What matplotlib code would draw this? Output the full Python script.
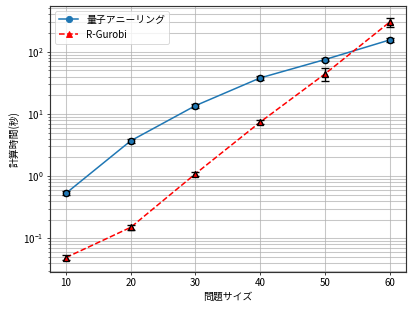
import numpy as np
import matplotlib
matplotlib.use('Agg')
import matplotlib.pyplot as plt

plt.rcParams['font.family'] = ['Noto Sans CJK JP', 'DejaVu Sans']
plt.rcParams['axes.unicode_minus'] = False
plt.rcParams['font.size'] = 11

sizes = [10, 20, 30, 40, 50, 60]
qa_time = [0.53, 3.7, 13.6, 38, 75, 155]
qa_err = [0.04, 0.3, 1.0, 2.5, 5, 9]
gurobi_time = [0.049, 0.15, 1.09, 7.4, 44, 300]
gurobi_err = [0.004, 0.012, 0.08, 0.5, 10, 50]

fig, ax = plt.subplots(figsize=(6.4, 4.8), dpi=64.375)

ax.plot(sizes, qa_time, 'o-', color='#1f77b4', lw=1.7, ms=7, label='量子アニーリング')
ax.plot(sizes, gurobi_time, '^--', color='red', lw=1.7, ms=7, label='R-Gurobi')

# error bars over the markers
ax.errorbar(sizes, qa_time, yerr=qa_err, fmt='o', color='#1f77b4', ms=7,
            mec='black', mew=1.5, ecolor='black', elinewidth=1.5, capsize=4)
ax.errorbar(sizes, gurobi_time, yerr=gurobi_err, fmt='^', color='red', ms=7,
            mec='black', mew=1.5, ecolor='black', elinewidth=1.5, capsize=4)

ax.set_yscale('log')
ax.set_xlabel('問題サイズ')
ax.set_ylabel('計算時間(秒)')
ax.grid(True, which='both', color='#b0b0b0', alpha=0.7, lw=1.2)
ax.legend(loc='upper left')
for sp in ax.spines.values():
    sp.set_linewidth(1.3)
    sp.set_color('#333333')

fig.subplots_adjust(left=0.121, right=0.985, top=0.981, bottom=0.12)
fig.savefig('out.png', dpi=64.375)
